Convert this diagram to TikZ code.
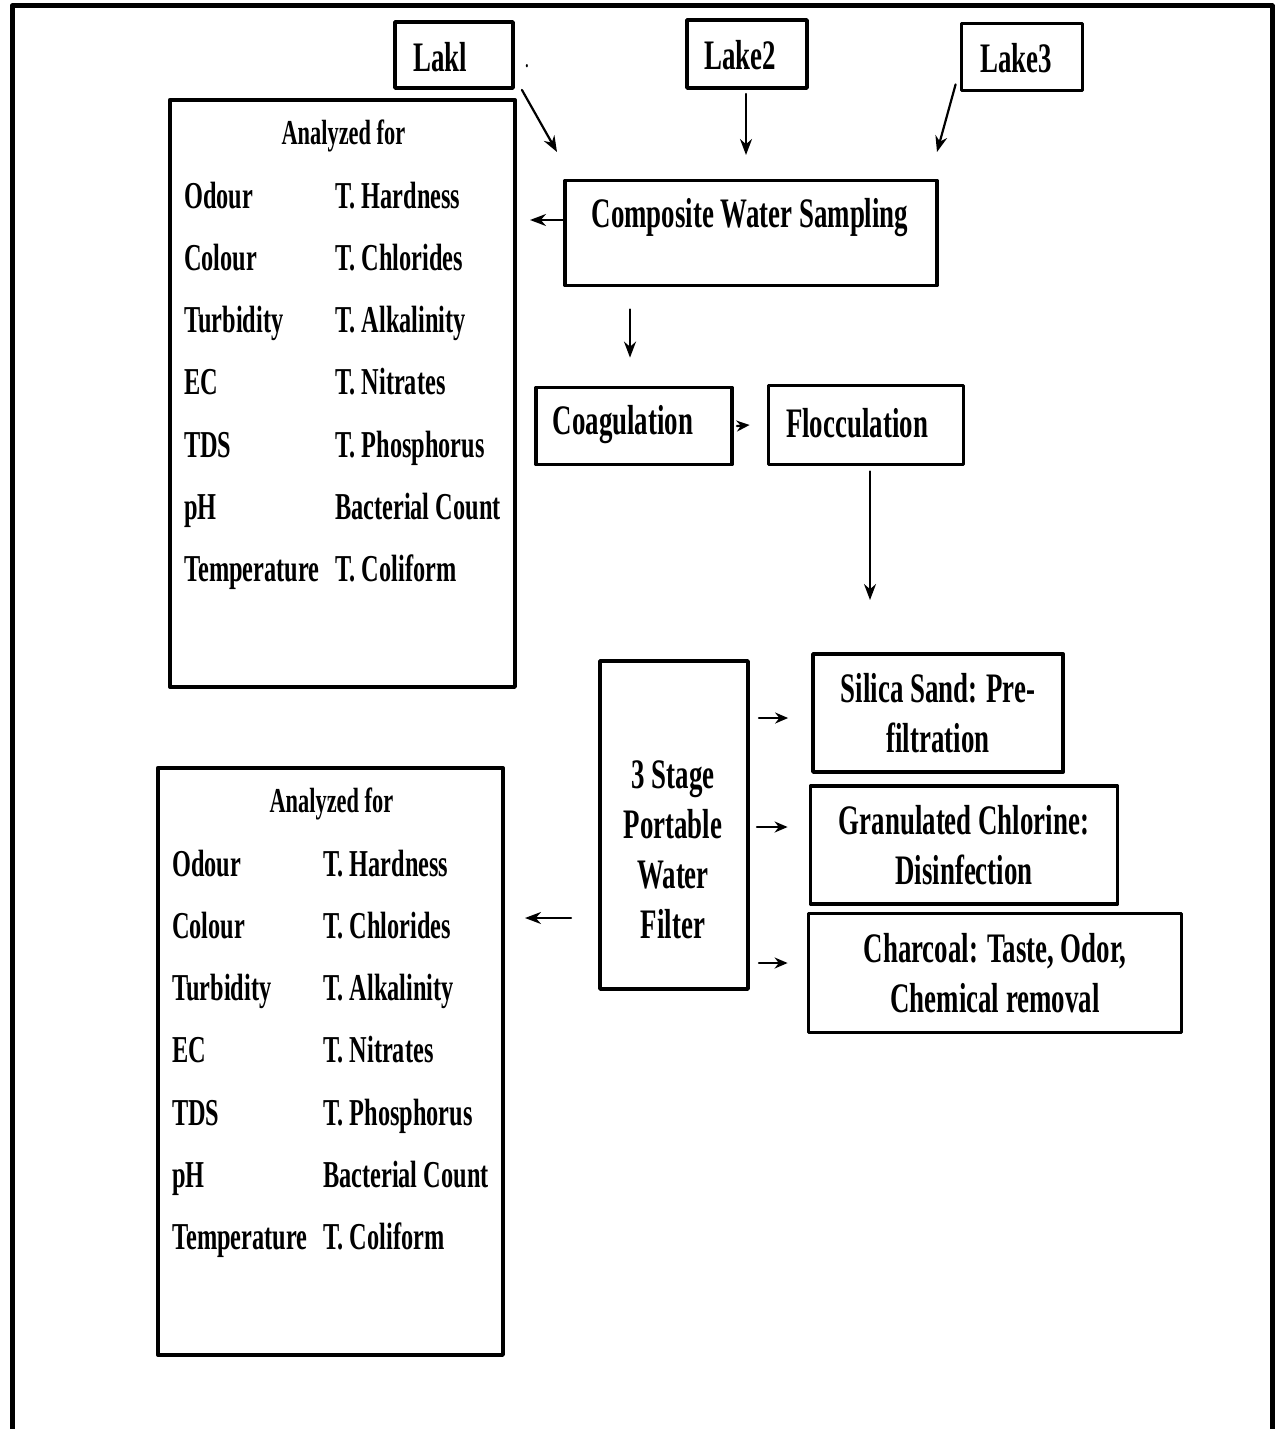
\documentclass[tikz,border=0pt]{standalone}
\usepackage{fontspec}
\setmainfont{Liberation Serif}[FakeStretch=0.64]
\usetikzlibrary{arrows.meta,calc}

\begin{document}
\begin{tikzpicture}[x=1pt, y=-1pt, line cap=round, line join=round,
    box/.style={draw, line width=3.8pt, inner sep=0pt},
    lbl/.style={font=\fontsize{42}{50}\selectfont\bfseries, align=center},
    tab/.style={font=\fontsize{38}{42}\selectfont\bfseries, anchor=base west, inner sep=0pt},
    head/.style={font=\fontsize{35}{40}\selectfont\bfseries, anchor=base, inner sep=0pt},
    link/.style={-{Stealth[length=16pt,width=12pt]}, line width=2.2pt},
    short/.style={-{Stealth[length=13pt,width=11pt]}, line width=2.2pt}]
  \useasboundingbox (0,0) rectangle (1276,1429);
  % frame
  \draw[line width=5pt, line cap=butt] (12,1429) -- (12,6) -- (1272,6) -- (1272,1429);

  % lakes
  \node[box, minimum width=118pt, minimum height=66pt] (lake1) at (454,55) {};
  \node[lbl] (lake1text) at (440,57) {Lakl};
  \node[box, minimum width=120pt, minimum height=68pt] (lake2) at (747,54) {};
  \node[lbl] (lake2text) at (740,55) {Lake2};
  \node[box, minimum width=121pt, minimum height=67pt] (lake3) at (1022,57) {};
  \node[lbl] (lake3text) at (1016,58) {Lake3};
  \node[font=\fontsize{20}{20}\selectfont\bfseries] (dot) at (527,66) {.};

  % process
  \node[box, minimum width=372pt, minimum height=105pt] (cws) at (751,233) {};
  \node[lbl] (cwstext) at (750,218) {Composite Water Sampling};
  \node[box, minimum width=196pt, minimum height=77pt] (coag) at (634,426) {};
  \node[lbl] (coagtext) at (623,425) {Coagulation};
  \node[box, minimum width=195pt, minimum height=79pt] (floc) at (866,425) {};
  \node[lbl] (floctext) at (857,423) {Flocculation};
  \node[box, minimum width=148pt, minimum height=328pt] (filter) at (674,825) {};
  \node[lbl] (filtertext) at (673,850) {3 Stage\\Portable\\Water\\Filter};
  \node[box, lbl, minimum width=250pt, minimum height=118pt] (silica) at (938,713)
    {Silica Sand: Pre-\\filtration};
  \node[box, lbl, minimum width=307pt, minimum height=118pt] (gran) at (964,845)
    {Granulated Chlorine:\\Disinfection};
  \node[box, lbl, minimum width=373pt, minimum height=119pt] (char) at (995,973)
    {Charcoal: Taste, Odor,\\Chemical removal};

  % analysis tables
  \foreach \tx/\ty/\nm in {168/98/ana, 156/766/anb} {
    \node[box, anchor=north west, minimum width=345pt, minimum height=587pt] (\nm) at (\tx,\ty) {};
    \node[head] (\nm-head) at ($(\nm.north)+(1,46)$) {Analyzed for};
    \foreach \l/\r [count=\i] in {Odour/T. Hardness, Colour/T. Chlorides,
        Turbidity/T. Alkalinity, EC/T. Nitrates, TDS/T. Phosphorus,
        pH/Bacterial Count, Temperature/T. Coliform} {
      \node[tab] (\nm-l\i) at ($(\nm.north west)+(16,48+62.2*\i)$) {\l};
      \node[tab] (\nm-r\i) at ($(\nm.north west)+(167,48+62.2*\i)$) {\r};
    }
  }

  % arrow ends
  \coordinate (in1) at (557,152);
  \coordinate (in2) at (746,155);
  \coordinate (in3) at (937,152);
  \coordinate (out1) at (530,220);
  \coordinate (out2) at (525,918);
  \coordinate (drop) at (870,600);

  \draw[link] ([shift={(7,0)}]lake1.south east) -- (in1);
  \draw[link] ([shift={(-1,4)}]lake2.south) -- (in2);
  \draw[link] ([shift={(-4,-8)}]lake3.south west) -- (in3);
  \draw[link] ([shift={(0,-13)}]cws.west) -- (out1);
  \draw[link] ($(cws.south -| coag.north)+(-4,22)$) -- ($(coag.north)+(-4,-28)$);
  \draw[short] ([shift={(3,0)}]coag.east) -- ([shift={(-17,0)}]floc.west);
  \draw[link] ([shift={(4,5)}]floc.south) -- (drop);
  \draw[short] ($(filter.east |- silica.center)+(9,5)$) -- ($(silica.west)+(-23,5)$);
  \draw[short] ($(filter.east |- gran.center)+(7,-18)$) -- ($(gran.west)+(-21,-18)$);
  \draw[short] ($(filter.east |- char.center)+(9,-10)$) -- ($(char.west)+(-19,-10)$);
  \draw[link] ([shift={(-27,93)}]filter.west) -- (out2);
\end{tikzpicture}
\end{document}
